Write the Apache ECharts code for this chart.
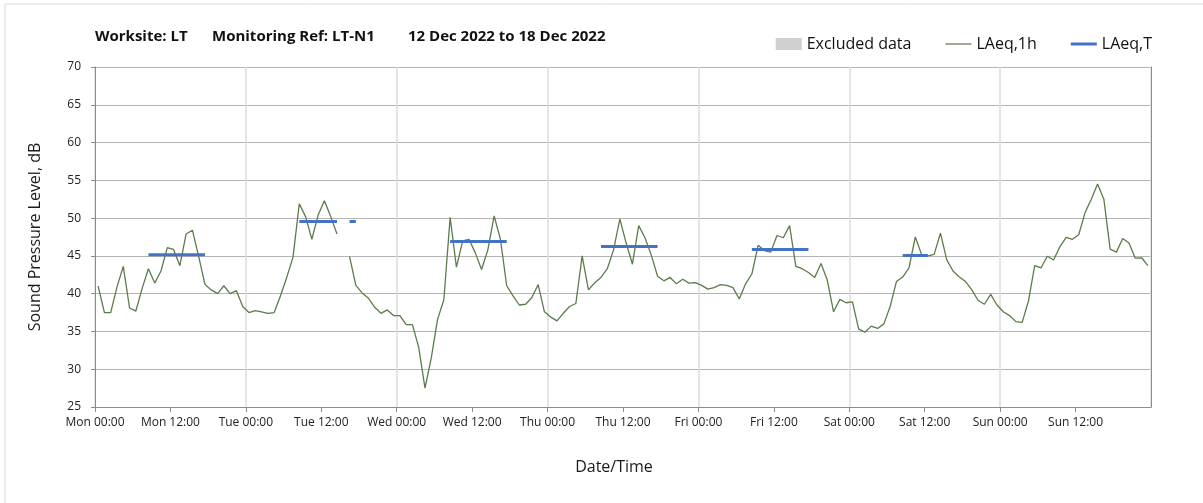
<!DOCTYPE html>
<html>
<head>
<meta charset="utf-8">
<script src="https://cdn.jsdelivr.net/npm/echarts@6/dist/echarts.min.js"></script>
<style>
html,body{margin:0;padding:0;background:#fff;}
#chart{width:1203px;height:503px;}
</style>
</head>
<body>
<div id="chart"></div>
<script>
// ---- data ----
const dayNames = ['Mon','Tue','Wed','Thu','Fri','Sat','Sun'];
const tickHours = ['00:00','12:00'];
// hourly LAeq,1h values (Mon 00:00 .. Sun 23:00), null = no data
const laeq1h = [
  41.0,37.5,37.5,40.9,43.6,38.1,37.7,40.7,43.3,41.4,43.0,46.1,45.85,43.7,47.9,48.4,44.9,41.2,40.5,40.0,41.05,40.0,40.4,38.3,
  37.5,37.75,37.6,37.4,37.5,39.7,42.15,44.8,51.9,50.2,47.2,50.4,52.3,50.2,47.9,null,44.9,41.1,40.1,39.4,38.2,37.4,37.85,37.1,
  37.1,35.9,35.9,32.9,27.5,31.5,36.6,39.2,50.1,43.5,47.0,47.2,45.4,43.2,45.8,50.3,47.2,41.05,39.7,38.5,38.6,39.5,41.2,37.6,
  36.9,36.4,37.4,38.3,38.7,45.0,40.5,41.45,42.15,43.3,45.8,49.9,46.7,43.9,49.0,47.4,45.1,42.3,41.7,42.15,41.3,41.9,41.4,41.45,
  41.1,40.6,40.8,41.2,41.1,40.8,39.3,41.3,42.6,46.4,45.7,45.5,47.7,47.4,49.0,43.6,43.3,42.8,42.15,44.0,41.8,37.6,39.25,38.8,
  38.9,35.3,34.9,35.7,35.4,36.0,38.3,41.6,42.2,43.4,47.5,45.2,45.0,45.2,48.0,44.5,43.0,42.2,41.6,40.5,39.1,38.6,39.9,38.5,
  37.6,37.1,36.3,36.2,39.0,43.7,43.4,44.95,44.45,46.2,47.45,47.2,47.8,50.7,52.5,54.5,52.5,45.9,45.5,47.3,46.7,44.7,44.75,43.7
];
// LAeq,T periods: start hour index, end hour index, level
const periodStart = [8, 32, 40, 56, 80, 104, 128];
const periodEnd   = [17, 38, 41, 65, 89, 113, 132];
const periodLevel = [45.15, 49.55, 49.55, 46.9, 46.25, 45.85, 45.05];
const excludedData = [];

// ---- build series data ----
const lineData = laeq1h.map((v, i) => [i + 0.5, v]);
const tData = [];
for (let p = 0; p < periodStart.length; p++) {
  for (let h = periodStart[p]; h <= periodEnd[p]; h++) tData.push([h + 0.5, periodLevel[p]]);
  if (p < periodStart.length - 1) tData.push([periodEnd[p] + 1, null]);
}

const FONT = 'Open Sans';
const GREEN = '#5c7b4b';
const BLUE = '#4472C4';
const chart = echarts.init(document.getElementById('chart'), null, {renderer: 'canvas'});
chart.setOption({
  animation: false,
  backgroundColor: '#ffffff',
  grid: {left: 95, right: 52, top: 67, bottom: 96, containLabel: false},
  legend: {
    right: 46, top: 31, itemWidth: 26, itemHeight: 12, itemGap: 34,
    textStyle: {fontFamily: FONT, fontSize: 16, color: '#111'},
    data: [
      {name: 'Excluded data', icon: 'rect'},
      {name: 'LAeq,1h', icon: 'path://M0,0H26V1H0Z', itemStyle: {color: '#3d5530'}},
      {name: 'LAeq,T', icon: 'path://M0,0H26V3H0Z', itemStyle: {color: BLUE}}
    ]
  },
  xAxis: {
    type: 'value', min: 0, max: 168, interval: 12,
    axisLine: {show: true, lineStyle: {color: '#8c8c8c', width: 1}},
    axisTick: {show: true, length: 5, lineStyle: {color: '#8c8c8c'}},
    axisLabel: {
      margin: 10, fontFamily: FONT, fontSize: 12, color: '#222',
      showMaxLabel: false,
      formatter: function (v) {
        if (v >= 168) return '';
        const d = Math.floor(v / 24);
        const h = (v % 24) / 12;
        return dayNames[d] + ' ' + tickHours[h];
      }
    },
    splitLine: {show: true, lineStyle: {color: ['#dcdcdc', 'rgba(0,0,0,0)'], width: 1.5}}
  },
  yAxis: [{
    type: 'value', min: 25, max: 70, interval: 5,
    axisLine: {show: true, lineStyle: {color: '#8c8c8c', width: 1}},
    axisTick: {show: true, length: 4, lineStyle: {color: '#8c8c8c'}},
    axisLabel: {margin: 14, fontFamily: FONT, fontSize: 12, color: '#222'},
    splitLine: {show: true, lineStyle: {color: '#b4b4b4', width: 1}}
  }, {
    type: 'value', min: 25, max: 70, interval: 5, position: 'right',
    axisLine: {show: true, lineStyle: {color: '#8c8c8c', width: 1}},
    axisTick: {show: false}, axisLabel: {show: false}, splitLine: {show: false}
  }],
  series: [
    {name: 'Excluded data', type: 'bar', data: excludedData, itemStyle: {color: '#d0d0d0'}},
    {name: 'LAeq,1h', type: 'line', data: lineData, symbol: 'none', connectNulls: false,
     lineStyle: {color: GREEN, width: 1.3}, itemStyle: {color: GREEN}, z: 3},
    {name: 'LAeq,T', type: 'line', data: tData, symbol: 'none', connectNulls: false,
     lineStyle: {color: BLUE, width: 3}, itemStyle: {color: BLUE}, z: 4}
  ],
  graphic: [
    {type: 'rect', shape: {x: 5, y: 4, width: 1215, height: 520}, style: {fill: 'none', stroke: '#d9d9d9', lineWidth: 1}, silent: true, z: -10},
    {type: 'text', x: 95, y: 37, style: {text: 'Worksite: LT', font: 'bold 15px "Open Sans"', fill: '#111', textVerticalAlign: 'middle'}},
    {type: 'text', x: 212, y: 37, style: {text: 'Monitoring Ref: LT-N1', font: 'bold 15px "Open Sans"', fill: '#111', textVerticalAlign: 'middle'}},
    {type: 'text', x: 408, y: 37, style: {text: '12 Dec 2022 to 18 Dec 2022', font: 'bold 15px "Open Sans"', fill: '#111', textVerticalAlign: 'middle'}},
    {type: 'text', x: 35, y: 237, rotation: Math.PI / 2, style: {text: 'Sound Pressure Level, dB', font: '16px "Open Sans"', fill: '#1a1a1a', textAlign: 'center', textVerticalAlign: 'middle'}},
    {type: 'text', x: 614, y: 467, style: {text: 'Date/Time', font: '16px "Open Sans"', fill: '#1a1a1a', textAlign: 'center', textVerticalAlign: 'middle'}}
  ]
});
</script>
</body>
</html>
